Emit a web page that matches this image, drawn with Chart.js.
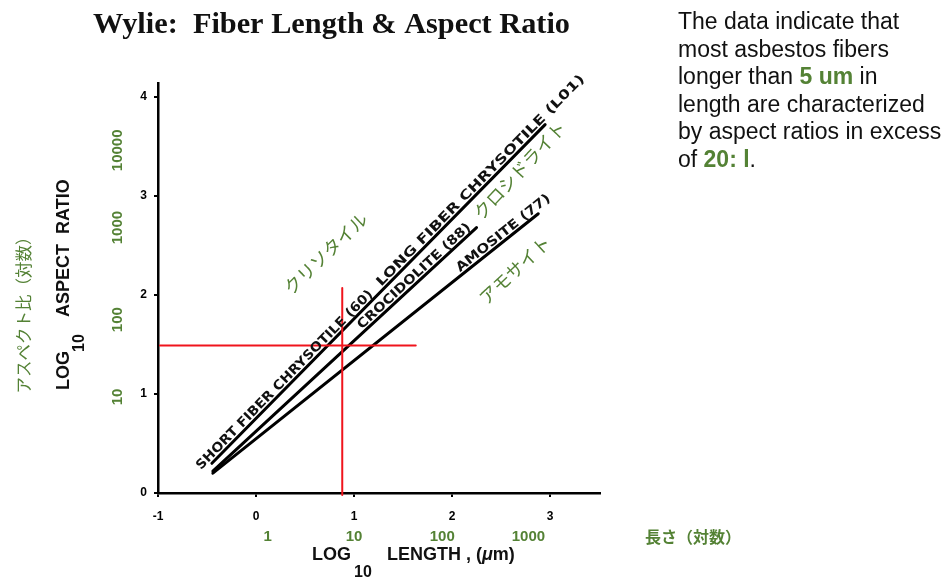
<!DOCTYPE html>
<html>
<head>
<meta charset="utf-8">
<script src="https://cdn.jsdelivr.net/npm/chart.js@4.4.1/dist/chart.umd.min.js"></script>
<style>
  html, body { margin: 0; padding: 0; background: #fff; }
  #wrap { position: relative; width: 950px; height: 577px; }
  #note {
    position: absolute; left: 678px; top: 8px; width: 272px;
    font-family: "Liberation Sans", Arial, sans-serif; font-size: 23px;
    line-height: 27.6px; color: #111; white-space: nowrap;
  }
  #note b { color: #548235; }
</style>
</head>
<body>
<div id="wrap">
  <canvas id="chart" width="950" height="577"></canvas>
  <div id="note">The data indicate that<br>most asbestos fibers<br>longer than <b>5 um</b> in<br>length are characterized<br>by aspect ratios in excess<br>of <b>20: l</b>.</div>
</div>
<script>
// log10 length (x) vs log10 aspect ratio (y)
const chrysotileX = [-0.45, 2.95];
const chrysotileY = [0.30, 3.72];
const crocidoliteX = [-0.44, 2.25];
const crocidoliteY = [0.22, 2.68];
const amositeX = [-0.44, 2.88];
const amositeY = [0.20, 2.82];

// red guide lines
const vGuideX = [0.88, 0.88];
const vGuideY = [-0.02, 2.07];
const hGuideX = [-0.98, 1.63];
const hGuideY = [1.49, 1.49];

// green value labels (linear value next to the log tick)
const xValueLabels = ['1', '10', '100', '1000'];
const xValuePos = [0.12, 1.0, 1.9, 2.78];
const yValueLabels = ['10', '100', '1000', '10000'];
const yValuePos = [0.97, 1.75, 2.68, 3.46];

const lineLabels = [
  { text: 'SHORT FIBER CHRYSOTILE (60)', line: 'chrysotile', from: -0.54, to: 1.22 },
  { text: 'LONG FIBER CHRYSOTILE (L01)', line: 'chrysotile', from: 1.30, to: 3.38 },
  { text: 'CROCIDOLITE (88)', line: 'crocidolite', from: 1.10, to: 2.22 },
  { text: 'AMOSITE (77)', line: 'amosite', from: 2.10, to: 3.03 }
];
const kanaLabels = [
  { text: 'クリソタイル', x: 0.71, y: 2.42, angle: -44 },
  { text: 'クロシドライト', x: 2.69, y: 3.26, angle: -47 },
  { text: 'アモサイト', x: 2.64, y: 2.25, angle: -43 }
];

const GREEN = '#548235';
const pts = (xs, ys) => xs.map((x, i) => ({ x: x, y: ys[i] }));

function fitText(ctx, text, x, y, width) {
  const w = ctx.measureText(text).width;
  ctx.save();
  ctx.translate(x, y);
  ctx.scale(width / w, 1);
  ctx.fillText(text, 0, 0);
  ctx.restore();
}

const textPlugin = {
  id: 'texts',
  afterDraw(chart) {
    const ctx = chart.ctx;
    const xs = chart.scales.x, ys = chart.scales.y;
    ctx.save();

    // title
    ctx.fillStyle = '#111';
    ctx.font = 'bold 29px "Liberation Serif", "Times New Roman", serif';
    ctx.textBaseline = 'alphabetic';
    ctx.textAlign = 'left';
    fitText(ctx, 'Wylie:  Fiber Length & Aspect Ratio', 93, 33, 477);

    // labels along the lines
    ctx.font = 'bold 13px "DejaVu Sans", sans-serif';
    lineLabels.forEach(l => {
      const ds = chart.data.datasets.find(d => d.label === l.line);
      const d0 = ds.data[0], d1 = ds.data[1];
      const yAt = v => d0.y + (v - d0.x) * (d1.y - d0.y) / (d1.x - d0.x);
      const p0 = { x: xs.getPixelForValue(d0.x), y: ys.getPixelForValue(d0.y) };
      const p1 = { x: xs.getPixelForValue(d1.x), y: ys.getPixelForValue(d1.y) };
      const ang = Math.atan2(p1.y - p0.y, p1.x - p0.x);
      const a = { x: xs.getPixelForValue(l.from), y: ys.getPixelForValue(yAt(l.from)) };
      const b = { x: xs.getPixelForValue(l.to), y: ys.getPixelForValue(yAt(l.to)) };
      const len = Math.hypot(b.x - a.x, b.y - a.y);
      ctx.save();
      ctx.translate(a.x, a.y);
      ctx.rotate(ang);
      fitText(ctx, l.text, 0, -3, len);
      ctx.restore();
    });

    // katakana mineral names
    ctx.fillStyle = GREEN;
    ctx.font = '18px "Noto Sans CJK JP", sans-serif';
    ctx.textAlign = 'center';
    ctx.textBaseline = 'middle';
    kanaLabels.forEach(k => {
      ctx.save();
      ctx.translate(xs.getPixelForValue(k.x), ys.getPixelForValue(k.y));
      ctx.rotate(k.angle * Math.PI / 180);
      ctx.fillText(k.text, 0, 0);
      ctx.restore();
    });

    // green linear values
    ctx.font = 'bold 15px "Liberation Sans", Arial, sans-serif';
    xValueLabels.forEach((t, i) => ctx.fillText(t, xs.getPixelForValue(xValuePos[i]), 537));
    yValueLabels.forEach((t, i) => {
      ctx.save();
      ctx.translate(118, ys.getPixelForValue(yValuePos[i]));
      ctx.rotate(-Math.PI / 2);
      ctx.fillText(t, 0, 0);
      ctx.restore();
    });

    // Japanese axis names
    ctx.font = 'bold 16px "Noto Sans CJK JP", sans-serif';
    ctx.fillText('長さ（対数）', 693, 537);
    ctx.font = '16.5px "Noto Sans CJK JP", sans-serif';
    ctx.save();
    ctx.translate(24, 311);
    ctx.rotate(-Math.PI / 2);
    ctx.fillText('アスペクト比（対数）', 0, 0);
    ctx.restore();

    // axis titles with subscript
    ctx.fillStyle = '#111';
    ctx.textAlign = 'left';
    ctx.textBaseline = 'alphabetic';
    ctx.font = 'bold 18px "Liberation Sans", Arial, sans-serif';
    ctx.fillText('LOG', 312, 560);
    ctx.fillText('LENGTH , (', 387, 560);
    let w = ctx.measureText('LENGTH , (').width;
    ctx.font = 'italic bold 18px "Liberation Sans", Arial, sans-serif';
    ctx.fillText('\u03bc', 387 + w, 560);
    w += ctx.measureText('\u03bc').width;
    ctx.font = 'bold 18px "Liberation Sans", Arial, sans-serif';
    ctx.fillText('m)', 387 + w, 560);
    ctx.font = 'bold 16px "Liberation Sans", Arial, sans-serif';
    ctx.fillText('10', 354, 577);

    ctx.save();
    ctx.translate(69, 390);
    ctx.rotate(-Math.PI / 2);
    ctx.font = 'bold 18px "Liberation Sans", Arial, sans-serif';
    ctx.fillText('LOG', 0, 0);
    ctx.fillText('ASPECT  RATIO', 73, 0);
    ctx.font = 'bold 16px "Liberation Sans", Arial, sans-serif';
    ctx.fillText('10', 38, 15);
    ctx.restore();

    ctx.restore();
  }
};

new Chart(document.getElementById('chart'), {
  type: 'scatter',
  data: {
    datasets: [
      { label: 'vguide', data: pts(vGuideX, vGuideY), borderColor: '#f0141c', borderWidth: 2, order: 0 },
      { label: 'hguide', data: pts(hGuideX, hGuideY), borderColor: '#f0141c', borderWidth: 2, order: 0 },
      { label: 'chrysotile', data: pts(chrysotileX, chrysotileY), borderColor: '#000', borderWidth: 3, order: 1 },
      { label: 'crocidolite', data: pts(crocidoliteX, crocidoliteY), borderColor: '#000', borderWidth: 3, order: 1 },
      { label: 'amosite', data: pts(amositeX, amositeY), borderColor: '#000', borderWidth: 3, order: 1 }
    ]
  },
  options: {
    responsive: false,
    animation: false,
    showLine: true,
    clip: false,
    elements: { point: { radius: 0 }, line: { borderCapStyle: 'round' } },
    layout: { padding: { top: 83, right: 350, left: 0, bottom: 0 } },
    plugins: { legend: { display: false }, tooltip: { enabled: false } },
    scales: {
      x: {
        type: 'linear', min: -1, max: 3.51,
        afterFit: s => { s.height = 84; },
        border: { color: '#000', width: 2.5 },
        grid: { drawOnChartArea: false, color: '#000', lineWidth: 2, tickLength: 4 },
        ticks: {
          stepSize: 1, includeBounds: false, padding: 12, color: '#000',
          font: { family: '"Liberation Sans", Arial, sans-serif', size: 12, weight: 'bold' }
        }
      },
      y: {
        type: 'linear', min: 0, max: 4.14,
        afterFit: s => { s.width = 158; },
        border: { color: '#000', width: 2.5 },
        grid: { drawOnChartArea: false, color: '#000', lineWidth: 2, tickLength: 4 },
        ticks: {
          stepSize: 1, includeBounds: false, padding: 7, color: '#000',
          font: { family: '"Liberation Sans", Arial, sans-serif', size: 12, weight: 'bold' }
        }
      }
    }
  },
  plugins: [textPlugin]
});
</script>
</body>
</html>
